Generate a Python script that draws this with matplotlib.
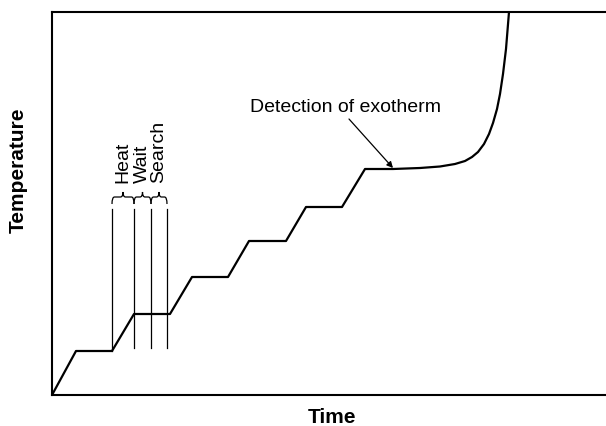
import matplotlib
matplotlib.use("Agg")
import matplotlib.pyplot as plt
from matplotlib.path import Path
from matplotlib.patches import PathPatch

plt.rcParams['font.family'] = ['Liberation Sans', 'DejaVu Sans']

# Temperature profile (time, temperature)
time_pts = [0, 24, 60, 82, 118, 140, 176, 197, 234, 254, 290, 313, 341, 368, 388,
            403, 413, 420, 426, 432, 437, 441, 445, 448, 451, 454, 457, 458]
temp_pts = [0, 44, 44, 81, 81, 118, 118, 154, 154, 188, 188, 226, 226, 227, 228.5,
            231, 234, 238, 243, 251, 261, 272, 286, 301, 321, 346, 383, 400]

# Phase boundary lines
phase_x = [60, 82, 99, 115]
phase_bottom = [44, 47, 47, 47]
phase_top = 186
phase_labels = ["Heat", "Wait", "Search"]

# Exotherm annotation
detect_point = (341, 227)
detect_text_pos = (294, 289)
arrow_tail = (297, 276)

fig = plt.figure(figsize=(6.06, 4.27), dpi=100)
ax = fig.add_axes([52/606, 31/427, 554/606, 383/427])
ax.set_xlim(0, 554)
ax.set_ylim(0, 383)
ax.set_xticks([])
ax.set_yticks([])
ax.spines['right'].set_visible(False)
for s in ['left', 'top', 'bottom']:
    ax.spines[s].set_linewidth(1.5)

ax.plot(time_pts, temp_pts, color='black', lw=1.6, solid_joinstyle='round')

for x, b in zip(phase_x, phase_bottom):
    ax.plot([x, x], [b, phase_top], color='black', lw=0.9)

# braces
y_end, y_bar, y_tip = 191, 198, 203
r = 2.5
for i, lab in enumerate(phase_labels):
    x1, x2 = phase_x[i], phase_x[i + 1]
    m = (x1 + x2) / 2
    verts = [(x1, y_end), (x1, y_bar), (x1 + r, y_bar), (m - r, y_bar),
             (m, y_bar), (m, y_tip), (m, y_bar), (m + r, y_bar),
             (x2 - r, y_bar), (x2, y_bar), (x2, y_end)]
    codes = [Path.MOVETO, Path.CURVE3, Path.CURVE3, Path.LINETO,
             Path.CURVE3, Path.CURVE3, Path.CURVE3, Path.CURVE3,
             Path.LINETO, Path.CURVE3, Path.CURVE3]
    ax.add_patch(PathPatch(Path(verts, codes), fill=False, lw=0.9, color='black'))
    ax.text(m, 213, lab, rotation=90, ha='center', va='bottom', fontsize=14)

ax.text(detect_text_pos[0], detect_text_pos[1], "Detection of exotherm",
        ha='center', va='center', fontsize=14)
ax.annotate('', xy=detect_point, xytext=arrow_tail,
            arrowprops=dict(arrowstyle='-|>', lw=0.9, color='black',
                            mutation_scale=9, shrinkA=0, shrinkB=0))

fig.text(332/606, 1 - 418/427, "Time", ha='center', va='center',
         fontsize=15, fontweight='bold')
fig.text(18/606, 1 - 170/427, "Temperature", ha='center', va='center',
         rotation=90, fontsize=15, fontweight='bold')

fig.savefig("out.png", dpi=100)
